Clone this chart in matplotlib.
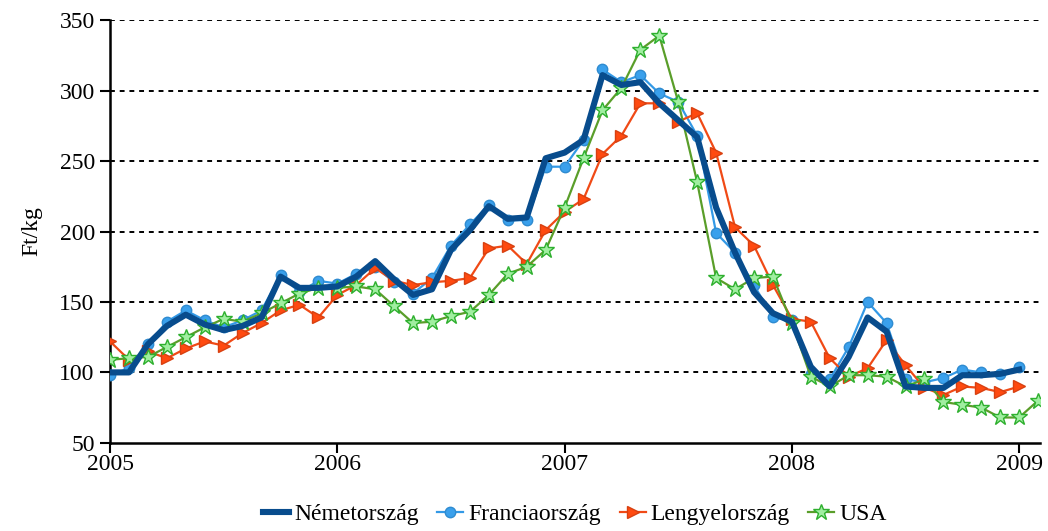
import matplotlib.pyplot as plt
import numpy as np

plt.rcParams.update({"font.family": ["Liberation Serif", "DejaVu Serif"],
                     "font.size": 17})

# monthly data, Jan 2005 onward
start_year = 2005
nemet = [100, 100, 120, 133, 141, 134, 130, 133, 139, 168, 160, 160,
         161, 168, 179, 166, 155, 159, 187, 201, 218, 209, 210, 252,
         256, 265, 311, 304, 306, 291, 279, 267, 217, 185, 157, 142,
         136, 104, 90, 111, 139, 129, 90, 89, 89, 98, 98, 99, 102]
francia = [98, 103, 120, 136, 144, 137, 132, 137, 144, 169, 157, 165,
           163, 170, 175, 164, 156, 167, 190, 205, 219, 208, 208, 246,
           246, 265, 315, 306, 311, 298, 292, 268, 199, 185, 162, 139,
           137, 99, 95, 118, 150, 135, 95, 93, 96, 102, 100, 99, 104]
lengyel = [122, 109, 115, 110, 117, 122, 119, 128, 135, 144, 148, 139,
           155, 162, 174, 165, 162, 164, 165, 167, 188, 190, 177, 201,
           214, 223, 255, 268, 291, 291, 278, 284, 256, 203, 190, 162,
           138, 136, 110, 97, 103, 123, 105, 89, 84, 90, 89, 86, 90]
usa = [109, 110, 111, 118, 125, 132, 138, 136, 142, 149, 156, 160,
       160, 161, 159, 147, 135, 136, 140, 143, 155, 170, 175, 187,
       217, 252, 286, 302, 329, 339, 292, 235, 167, 159, 167, 168,
       135, 97, 90, 98, 98, 97, 90, 95, 79, 77, 75, 68, 68, 80]

year_ticks = [2005, 2006, 2007, 2008, 2009]


def months(vals):
    return start_year + np.arange(len(vals)) / 12.0


fig, ax = plt.subplots(figsize=(10.48, 5.31), dpi=100)
fig.subplots_adjust(left=0.105, right=0.992, top=0.962, bottom=0.166)

ax.plot(months(francia), francia, color="#3399e6", lw=1.6, marker="o",
        ms=7.5, mfc="#3aa0ec", mec="#2f8bd0", label="Franciaország", zorder=3)
ax.plot(months(lengyel), lengyel, color="#f04a16", lw=1.6, marker=">",
        ms=9, mfc="#ff4a10", mec="#d84010", label="Lengyelország", zorder=3)
ax.plot(months(usa), usa, color="#5a9e2a", lw=1.6, marker="*",
        ms=12, mfc="#a0eea0", mec="#2fb02f", mew=1.0, label="USA", zorder=3)
ax.plot(months(nemet), nemet, color="#084c8d", lw=4.4,
        label="Németország", zorder=4)

ax.set_xlim(2005, 2009.09)
ax.set_ylim(50, 350)
ax.set_yticks(range(50, 351, 50))
ax.set_xticks(year_ticks)
ax.set_xticklabels([str(y) for y in year_ticks])
for y in range(100, 351, 50):
    ax.axhline(y, color="black", lw=1.4, ls=(0, (2.5, 2.5)), zorder=1)

ax.spines["top"].set_visible(False)
ax.spines["right"].set_visible(False)
ax.spines["left"].set_linewidth(1.8)
ax.spines["bottom"].set_linewidth(1.8)
ax.tick_params(axis="both", direction="out", length=7, width=1.5, colors="black")
ax.tick_params(axis="x", pad=1)
ax.tick_params(axis="y", pad=4)
ax.set_ylabel("Ft/kg", labelpad=12)

handles, labels = ax.get_legend_handles_labels()
order = [3, 0, 1, 2]
ax.legend([handles[i] for i in order], [labels[i] for i in order],
          loc="upper center", bbox_to_anchor=(0.5, -0.122), ncol=4,
          frameon=False, handlelength=1.1, handletextpad=0.2,
          columnspacing=0.8, fontsize=17, borderaxespad=0)

fig.savefig("out.png", dpi=100)
